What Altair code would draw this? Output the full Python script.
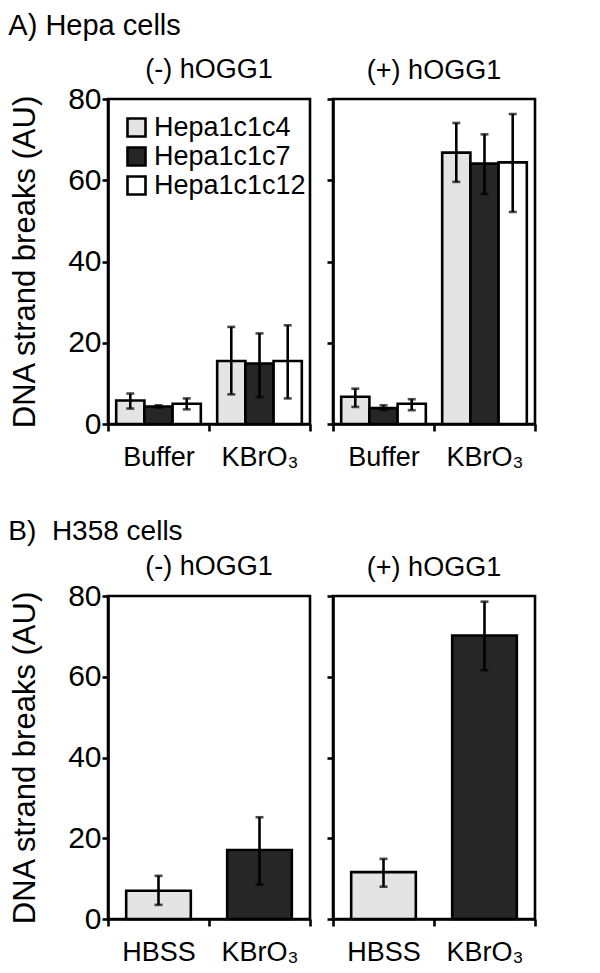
import altair as alt
import pandas as pd

# ---------------- data ----------------
treat_a = ["Buffer", "KBrO\u2083"]
cells = ["Hepa1c1c4", "Hepa1c1c7", "Hepa1c1c12"]

a_minus_mean = [5.8, 4.3, 5.0, 15.5, 14.9, 15.5]
a_minus_lo = [3.8, 4.0, 3.6, 7.3, 6.6, 6.3]
a_minus_hi = [7.5, 4.6, 6.3, 23.9, 22.3, 24.3]

a_plus_mean = [6.7, 3.9, 5.0, 66.8, 64.1, 64.4]
a_plus_lo = [4.2, 3.4, 3.4, 59.6, 56.6, 52.2]
a_plus_hi = [8.7, 4.6, 6.1, 74.1, 71.3, 76.3]

treat_b = ["HBSS", "KBrO\u2083"]
b_minus_mean = [7.0, 17.1]
b_minus_lo = [3.5, 8.5]
b_minus_hi = [10.7, 25.2]

b_plus_mean = [11.6, 70.2]
b_plus_lo = [8.0, 61.6]
b_plus_hi = [14.9, 78.6]

y_ticks = [0, 20, 40, 60, 80]

LIGHT = "#e4e4e4"
DARK = "#262626"
FONT = "Liberation Sans"
LW = 2.6


def y_axis(first):
    if first:
        return alt.Axis(title="DNA strand breaks (AU)", values=y_ticks, labelFontSize=30,
                        labelPadding=1, titleFontSize=31, titleFontWeight="normal",
                        titlePadding=26, titleColor="black")
    return alt.Axis(title=None, values=y_ticks, labels=False)


def x_axis():
    return alt.Axis(title=None, labelAngle=0, tickBand="extent", labelFontSize=27,
                    labelPadding=13, tickSize=7)


def panel_title(text, offset):
    return alt.Title(text, fontSize=27, fontWeight="normal", offset=offset,
                     color="black", font=FONT)


def panel_a(mean, lo, hi, title, first):
    df = pd.DataFrame({
        "treatment": [t for t in treat_a for _ in cells],
        "cell": cells * 2,
        "mean": mean, "lo": lo, "hi": hi,
    })
    base = alt.Chart(df)
    x = alt.X("treatment:N", sort=treat_a, scale=alt.Scale(paddingInner=0, paddingOuter=0),
              axis=x_axis())
    xo = alt.XOffset("cell:N", sort=cells, scale=alt.Scale(paddingInner=0, paddingOuter=0.29))
    if first:
        legend = alt.Legend(title=None, orient="top-left", offset=15, symbolType="square",
                            symbolSize=324, symbolStrokeColor="black", symbolStrokeWidth=LW,
                            labelFontSize=27, labelFont=FONT, labelColor="black",
                            labelLimit=300, rowPadding=0, padding=0, labelOffset=4)
    else:
        legend = None
    bars = base.mark_bar(stroke="black", strokeWidth=LW).encode(
        x=x, xOffset=xo,
        y=alt.Y("mean:Q", scale=alt.Scale(domain=[0, 80], nice=False), axis=y_axis(first)),
        color=alt.Color("cell:N", sort=cells,
                        scale=alt.Scale(domain=cells, range=[LIGHT, DARK, "white"]),
                        legend=legend),
    )
    rules = base.mark_rule(color="black", strokeWidth=LW).encode(
        x=x, xOffset=xo, y="lo:Q", y2="hi:Q")
    caps = base.transform_fold(["lo", "hi"], as_=["k", "v"]).mark_tick(
        color="black", size=8, thickness=LW).encode(x=x, xOffset=xo, y="v:Q")
    return alt.layer(bars, rules, caps).properties(
        width=202, height=325, title=panel_title(title, 0 if first else 13))


def panel_b(mean, lo, hi, title, first):
    df = pd.DataFrame({"treatment": treat_b, "mean": mean, "lo": lo, "hi": hi})
    base = alt.Chart(df)
    x = alt.X("treatment:N", sort=treat_b, scale=alt.Scale(paddingInner=0, paddingOuter=0),
              axis=x_axis())
    bars = base.mark_bar(stroke="black", strokeWidth=LW, width=alt.RelativeBandSize(0.64)).encode(
        x=x,
        y=alt.Y("mean:Q", scale=alt.Scale(domain=[0, 80], nice=False), axis=y_axis(first)),
        color=alt.Color("treatment:N", sort=treat_b,
                        scale=alt.Scale(domain=treat_b, range=[LIGHT, DARK]), legend=None),
    )
    rules = base.mark_rule(color="black", strokeWidth=LW).encode(x=x, y="lo:Q", y2="hi:Q")
    caps = base.transform_fold(["lo", "hi"], as_=["k", "v"]).mark_tick(
        color="black", size=8, thickness=LW).encode(x=x, y="v:Q")
    return alt.layer(bars, rules, caps).properties(
        width=202, height=323, title=panel_title(title, 0 if first else 13))


top = alt.hconcat(
    panel_a(a_minus_mean, a_minus_lo, a_minus_hi, "(-) hOGG1", True),
    panel_a(a_plus_mean, a_plus_lo, a_plus_hi, "(+) hOGG1", False),
    spacing=11,
).resolve_scale(color="independent").resolve_legend(color="independent").properties(
    title=alt.Title("A) Hepa cells", anchor="start", frame="bounds", fontSize=29,
                    fontWeight="normal", offset=14, color="black", font=FONT))

bottom = alt.hconcat(
    panel_b(b_minus_mean, b_minus_lo, b_minus_hi, "(-) hOGG1", True),
    panel_b(b_plus_mean, b_plus_lo, b_plus_hi, "(+) hOGG1", False),
    spacing=11,
).resolve_scale(color="independent").resolve_legend(color="independent").properties(
    title=alt.Title("B)\u00a0 H358 cells", anchor="start", frame="bounds", fontSize=28,
                    fontWeight="normal", offset=6, color="black", font=FONT))

chart = alt.vconcat(top, bottom, spacing=45).resolve_scale(color="independent").resolve_legend(
    color="independent").properties(
    padding={"top": 3, "left": 0, "right": 0, "bottom": 0}).configure(font=FONT).configure_view(
    stroke="black", strokeWidth=LW).configure_axis(
    domainColor="black", domainWidth=LW, tickColor="black", tickWidth=LW, tickSize=6,
    labelColor="black", grid=False, labelFont=FONT, titleFont=FONT)

chart.save("out.html", embed_options={"renderer": "svg", "actions": False})
